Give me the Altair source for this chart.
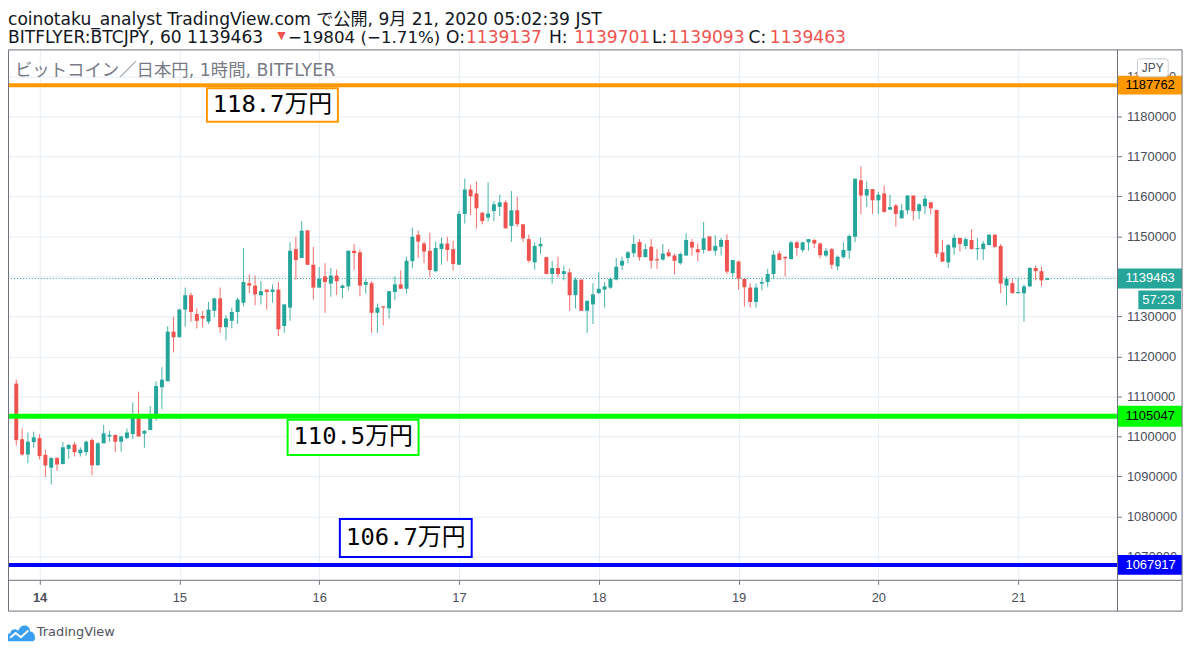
import altair as alt
import pandas as pd

# ---- hourly OHLC, BITFLYER BTC/JPY (thousand JPY), first candle 2020-09-13 20:00 ----
opens = [1113.2,1099.3,1095.5,1098.6,1099.6,1095.4,1092.2,1094.6,1093.1,1096.9,
         1098.0,1095.8,1096.1,1099.1,1092.8,1098.3,1100.0,1100.4,1098.7,1099.6,
         1100.6,1105.6,1100.7,1101.6,1105.2,1112.3,1113.8,1126.2,1124.8,1131.7,
         1135.3,1130.6,1130.1,1128.7,1131.4,1134.5,1127.3,1128.9,1131.1,1133.4,
         1138.3,1137.7,1135.3,1136.7,1136.1,1136.7,1127.6,1132.2,1146.8,1144.6,
         1151.5,1142.9,1137.2,1140.0,1138.2,1140.2,1137.1,1137.5,1146.4,1146.0,
         1137.9,1138.3,1130.9,1132.5,1132.0,1136.1,1138.0,1136.9,1143.8,1150.4,
         1148.2,1146.4,1141.3,1146.8,1148.2,1146.8,1142.9,1155.6,1161.7,1160.7,
         1155.9,1154.7,1156.3,1157.4,1158.5,1152.6,1156.5,1153.0,1149.3,1143.5,
         1147.5,1144.8,1140.6,1142.1,1140.6,1141.0,1135.3,1139.2,1131.4,1133.0,
         1135.8,1136.7,1137.2,1139.2,1142.7,1144.6,1145.8,1148.6,1144.8,1147.4,
         1144.3,1144.2,1146.0,1145.2,1143.3,1145.2,1148.6,1146.8,1146.6,1150.0,
         1146.4,1147.4,1149.1,1140.8,1143.7,1139.4,1137.2,1133.6,1138.2,1138.6,
         1140.6,1145.7,1144.9,1144.3,1148.5,1146.6,1148.5,1149.1,1148.2,1145.2,
         1146.8,1142.5,1144.8,1146.4,1149.9,1164.0,1160.2,1161.8,1159.0,1160.7,
         1156.7,1157.7,1154.5,1156.5,1160.2,1156.3,1157.5,1158.5,1156.6,1146.0,
         1143.5,1147.2,1149.6,1147.6,1149.1,1146.8,1146.8,1147.8,1150.4,1147.6,
         1137.7,1138.3,1135.8,1135.8,1137.5,1142.1,1141.3,1139.137]
highs = [1114.2,1102.0,1101.0,1101.2,1100.6,1096.7,1094.9,1094.9,1098.6,1098.1,
         1098.6,1097.3,1099.0,1099.6,1098.6,1102.9,1101.4,1100.4,1100.2,1102.0,
         1108.5,1111.2,1101.6,1107.6,1113.8,1117.3,1127.6,1129.9,1132.0,1137.2,
         1135.9,1132.0,1131.4,1133.6,1134.7,1137.2,1130.3,1132.2,1134.7,1147.1,
         1140.5,1140.2,1138.8,1136.7,1138.0,1138.6,1133.0,1148.5,1149.9,1153.8,
         1151.5,1147.4,1142.3,1143.3,1142.1,1141.7,1138.0,1146.4,1148.1,1146.8,
         1139.4,1138.8,1133.2,1132.5,1136.3,1140.0,1141.5,1144.9,1152.2,1151.5,
         1148.7,1150.9,1148.7,1149.7,1149.9,1148.9,1156.3,1164.4,1162.9,1163.7,
         1156.1,1163.5,1158.8,1160.4,1159.0,1161.3,1159.9,1153.0,1150.4,1148.5,
         1149.7,1144.9,1143.9,1144.9,1142.7,1141.9,1139.7,1139.2,1133.9,1138.3,
         1141.0,1138.6,1139.7,1144.6,1144.9,1146.4,1150.3,1149.3,1148.1,1149.3,
         1146.8,1148.1,1146.8,1145.7,1146.0,1150.7,1149.3,1148.2,1153.6,1150.0,
         1150.3,1149.6,1150.5,1144.1,1143.9,1139.4,1138.3,1138.2,1139.7,1141.9,
         1146.4,1146.4,1144.9,1148.9,1148.9,1148.7,1149.3,1149.3,1148.5,1147.1,
         1147.1,1145.2,1148.5,1150.5,1164.4,1167.5,1163.7,1161.8,1161.1,1162.7,
         1160.4,1158.1,1158.1,1160.2,1160.2,1158.2,1160.3,1158.5,1156.6,1149.1,
         1148.1,1150.5,1149.7,1149.7,1151.8,1149.6,1148.9,1150.5,1150.5,1148.1,
         1140.0,1139.4,1139.7,1138.0,1142.3,1142.7,1142.4,1139.701]
lows = [1097.7,1095.2,1093.3,1097.2,1094.3,1089.9,1088.0,1091.4,1093.1,1094.4,
        1095.0,1095.0,1095.2,1090.3,1092.8,1098.3,1098.7,1096.1,1096.2,1099.4,
        1099.4,1100.0,1097.2,1101.6,1103.9,1106.8,1113.8,1121.0,1124.8,1127.4,
        1128.7,1127.0,1127.3,1128.1,1129.8,1125.9,1124.0,1127.0,1128.1,1132.5,
        1135.8,1132.8,1133.0,1131.7,1133.4,1125.1,1125.9,1128.9,1139.2,1144.6,
        1142.9,1134.2,1137.2,1130.9,1134.9,1135.3,1134.5,1136.5,1141.6,1135.0,
        1135.7,1125.9,1125.9,1127.8,1129.5,1134.0,1136.9,1135.7,1142.1,1144.6,
        1143.3,1139.8,1141.0,1142.9,1143.8,1141.5,1142.9,1153.2,1155.3,1152.0,
        1153.0,1153.7,1153.8,1155.1,1152.0,1148.6,1152.4,1148.6,1143.4,1141.7,
        1145.6,1140.6,1138.2,1139.7,1139.0,1131.4,1132.0,1131.4,1125.9,1128.1,
        1135.7,1132.2,1136.9,1139.0,1141.6,1143.3,1144.8,1143.9,1144.8,1141.9,
        1141.9,1143.9,1145.0,1140.5,1142.9,1145.2,1145.2,1143.8,1145.7,1146.4,
        1145.2,1145.2,1140.6,1139.7,1136.7,1132.5,1132.2,1132.2,1136.5,1137.3,
        1139.4,1144.1,1140.0,1144.3,1145.2,1146.0,1146.4,1147.1,1144.5,1144.8,
        1141.9,1141.5,1144.4,1144.4,1148.5,1155.5,1157.3,1155.6,1155.5,1155.9,
        1156.5,1152.4,1154.5,1155.5,1154.0,1154.3,1155.5,1155.5,1144.8,1143.7,
        1142.1,1145.4,1146.2,1146.8,1146.8,1144.1,1144.1,1147.8,1147.1,1135.8,
        1132.8,1135.7,1135.8,1128.7,1137.3,1139.0,1137.5,1139.093]
closes = [1099.1,1095.5,1098.7,1099.8,1095.1,1092.8,1094.6,1093.0,1097.3,1097.9,
          1096.1,1096.7,1098.7,1092.8,1098.3,1100.8,1100.4,1098.7,1100.0,1101.0,
          1105.6,1100.0,1101.4,1105.6,1112.6,1114.2,1126.2,1124.8,1131.7,1135.3,
          1131.1,1128.9,1129.5,1131.7,1134.5,1127.3,1129.5,1131.1,1134.2,1138.6,
          1137.7,1135.5,1136.3,1136.1,1136.7,1126.8,1133.0,1146.4,1144.1,1151.4,
          1142.9,1137.2,1139.4,1138.6,1140.2,1138.8,1137.7,1146.4,1145.8,1137.7,
          1138.6,1130.9,1132.2,1132.2,1136.3,1138.0,1136.9,1143.9,1149.9,1148.7,
          1146.2,1141.6,1147.1,1148.2,1146.6,1143.1,1155.6,1161.7,1160.0,1157.0,
          1153.8,1155.7,1158.0,1158.5,1152.0,1156.5,1153.0,1149.5,1143.9,1147.6,
          1148.1,1140.6,1142.1,1140.6,1141.3,1135.3,1139.2,1131.4,1133.9,1135.5,
          1136.9,1137.5,1139.4,1142.4,1143.9,1146.0,1148.1,1144.8,1146.8,1143.9,
          1144.0,1145.7,1145.0,1143.9,1145.6,1149.1,1147.2,1146.0,1149.5,1146.4,
          1147.6,1149.1,1141.2,1144.1,1139.4,1137.3,1133.6,1137.2,1138.6,1140.6,
          1145.4,1144.1,1144.5,1148.5,1147.1,1148.5,1149.3,1148.2,1145.3,1146.4,
          1142.9,1144.9,1146.6,1150.1,1164.4,1160.2,1161.8,1159.0,1160.4,1156.1,
          1157.3,1155.6,1156.5,1160.2,1156.3,1158.0,1159.4,1157.0,1145.7,1143.7,
          1147.8,1149.6,1148.1,1149.3,1146.8,1147.0,1148.2,1150.4,1147.4,1138.2,
          1139.4,1135.8,1136.1,1137.5,1142.1,1141.3,1139.0,1139.463]

# horizontal levels (JPY)
level_prices = [1187762, 1105047, 1067917]
level_labels = ["118.7万円", "110.5万円", "106.7万円"]
last_price = 1139463
y_ticks = [1070000, 1080000, 1090000, 1100000, 1110000, 1120000, 1130000,
           1140000, 1150000, 1160000, 1170000, 1180000, 1190000]
day_ticks = ["2020-09-14", "2020-09-15", "2020-09-16", "2020-09-17",
             "2020-09-18", "2020-09-19", "2020-09-20", "2020-09-21"]

UP = "#26a69a"
DOWN = "#ef5350"
ORANGE = "#ff9800"
GREEN = "#00ff00"
BLUE = "#0000ff"
FRAME = "#6f727c"
GRID = "#e6edf2"
TXT = "#131722"
AXTXT = "#4a4e59"
RED_TXT = "#f05350"
HFONT = "DejaVu Sans, Noto Sans CJK JP"


def ms(s):
    return int(pd.Timestamp(s, tz="UTC").value // 10**6)


times = pd.date_range("2020-09-13 20:00", periods=len(opens), freq="h")
df = pd.DataFrame({
    "t": times.strftime("%Y-%m-%dT%H:%M:%SZ"),
    "o": [v * 1000 for v in opens],
    "h": [v * 1000 for v in highs],
    "l": [v * 1000 for v in lows],
    "c": [v * 1000 for v in closes],
})
df["bot"] = df[["o", "c"]].min(axis=1)
df["top"] = df[["o", "c"]].max(axis=1)
df["top"] = pd.concat([df["top"], df["bot"] + 250], axis=1).max(axis=1)
df["dir"] = ["up" if c >= o else "down" for o, c in zip(df["o"], df["c"])]

W, H = 1117, 534
xscale = alt.Scale(type="utc", domain=[ms("2020-09-13 19:26"), ms("2020-09-21 16:12")])
yscale = alt.Scale(domain=[1064069, 1196576], nice=False, zero=False)
cscale = alt.Scale(domain=["up", "down"], range=[UP, DOWN])

xaxis = alt.Axis(
    values=[ms(d) for d in day_ticks],
    labelExpr="utcFormat(datum.value, '%-d')",
    labelFontWeight={"condition": {"test": "utcdate(datum.value) == 14", "value": "bold"},
                     "value": "normal"},
    tickSize=4, tickColor=FRAME, labelPadding=7, domain=False,
    grid=True, gridColor=GRID, gridWidth=1,
    labelFont="Liberation Sans", labelFontSize=13, labelColor=AXTXT,
    labelFlush=False, labelOverlap=False, title=None,
)
yaxis = alt.Axis(
    orient="right", values=y_ticks, format="d",
    tickSize=4, tickColor=FRAME, labelPadding=5, domain=False,
    grid=True, gridColor=GRID, gridWidth=1,
    labelFont="Liberation Sans", labelFontSize=13, labelColor=AXTXT,
    labelFlush=False, labelOverlap=False, title=None,
)

one = alt.Data(values=[{"a": 1}])

# candles
wicks = alt.Chart(df).mark_rule(strokeWidth=1, opacity=0.85).encode(
    x=alt.X("t:T", scale=xscale, axis=xaxis),
    y=alt.Y("l:Q", scale=yscale, axis=yaxis),
    y2="h:Q",
    color=alt.Color("dir:N", scale=cscale, legend=None),
)
bodies = alt.Chart(df).mark_bar(size=4).encode(
    x=alt.X("t:T", scale=xscale, axis=xaxis),
    y=alt.Y("bot:Q", scale=yscale, axis=yaxis),
    y2="top:Q",
    color=alt.Color("dir:N", scale=cscale, legend=None),
)

last_df = pd.DataFrame({"p": [last_price]})
dotted = alt.Chart(last_df).mark_rule(color=UP, strokeDash=[1, 2], strokeWidth=1).encode(
    y=alt.Y("p:Q", scale=yscale, axis=yaxis))

lv = pd.DataFrame({"p": level_prices, "col": [ORANGE, GREEN, BLUE], "w": [4, 5, 4]})
levels = alt.Chart(lv).mark_rule().encode(
    y=alt.Y("p:Q", scale=yscale, axis=yaxis),
    color=alt.Color("col:N", scale=None),
    strokeWidth=alt.StrokeWidth("w:Q", scale=None),
)

ann = pd.DataFrame({
    "t0": ["2020-09-15T04:44:00Z", "2020-09-15T18:35:00Z", "2020-09-16T03:33:00Z"],
    "t1": ["2020-09-16T03:13:00Z", "2020-09-16T17:04:00Z", "2020-09-17T02:11:00Z"],
    "p0": [1187000, 1104200, 1079400],
    "p1": [1178600, 1095400, 1069900],
    "tm": ["2020-09-15T15:58:00Z", "2020-09-16T05:50:00Z", "2020-09-16T14:52:00Z"],
    "pm": [1182900, 1099800, 1074650],
    "label": level_labels,
    "col": [ORANGE, GREEN, BLUE],
})
ann_box = alt.Chart(ann).mark_rect(fill="white", strokeWidth=2).encode(
    x=alt.X("t0:T", scale=xscale, axis=xaxis), x2="t1:T",
    y=alt.Y("p0:Q", scale=yscale, axis=yaxis), y2="p1:Q",
    stroke=alt.Stroke("col:N", scale=None),
)
ann_txt = alt.Chart(ann).mark_text(
    font="DejaVu Sans Mono, Noto Sans CJK JP", fontSize=24, color="#000000",
    align="center", baseline="middle").encode(
    x=alt.X("tm:T", scale=xscale, axis=xaxis),
    y=alt.Y("pm:Q", scale=yscale, axis=yaxis),
    text="label:N",
)

# price tags on the right axis
tags = pd.DataFrame({
    "p": level_prices + [last_price],
    "col": [ORANGE, GREEN, BLUE, UP],
    "tcol": ["#000000", "#000000", "#ffffff", "#ffffff"],
    "txt": [str(v) for v in level_prices + [last_price]],
    "w": [19, 21, 20, 20],
})
tag_box = alt.Chart(tags).mark_rule().encode(
    x=alt.value(W), x2=alt.value(W + 65),
    y=alt.Y("p:Q", scale=yscale, axis=yaxis),
    color=alt.Color("col:N", scale=None),
    strokeWidth=alt.StrokeWidth("w:Q", scale=None),
)
tag_txt = alt.Chart(tags).mark_text(
    align="left", baseline="middle", font="Liberation Sans", fontSize=13).encode(
    x=alt.value(W + 8),
    y=alt.Y("p:Q", scale=yscale, axis=yaxis),
    color=alt.Color("tcol:N", scale=None),
    text="txt:N",
)
timer_box = alt.Chart(last_df).mark_rule(color=UP, strokeWidth=19, yOffset=21.5).encode(
    x=alt.value(W + 21), x2=alt.value(W + 64),
    y=alt.Y("p:Q", scale=yscale, axis=yaxis))
timer_txt = alt.Chart(last_df).mark_text(
    align="left", baseline="middle", font="Liberation Sans", fontSize=13,
    color="#ffffff", yOffset=21.5, text="57:23").encode(
    x=alt.value(W + 25), y=alt.Y("p:Q", scale=yscale, axis=yaxis))

jpy_box = alt.Chart(one).mark_rect(fill="white", stroke="#c8cbd3", strokeWidth=1,
                                   cornerRadius=3).encode(
    x=alt.value(W + 20), x2=alt.value(W + 51), y=alt.value(9), y2=alt.value(27))
jpy_txt = alt.Chart(one).mark_text(text="JPY", font="Liberation Sans", fontSize=12,
                                   color=AXTXT, align="center", baseline="middle").encode(
    x=alt.value(W + 35.5), y=alt.value(18))

# frame
frame = alt.Chart(one).mark_rect(fill=None, stroke=FRAME, strokeWidth=1).encode(
    x=alt.value(0.5), x2=alt.value(W + 65), y=alt.value(0), y2=alt.value(H + 31))
vsep = alt.Chart(one).mark_rule(color=FRAME, strokeWidth=1).encode(
    x=alt.value(W), y=alt.value(0), y2=alt.value(H + 31))
hsep = alt.Chart(one).mark_rule(color=FRAME, strokeWidth=1).encode(
    x=alt.value(0), x2=alt.value(W + 65), y=alt.value(H))


def txt(s, x, y, color=TXT, size=17.2, font=HFONT, align="left", baseline="middle"):
    return alt.Chart(one).mark_text(
        text=s, align=align, baseline=baseline, font=font, fontSize=size,
        color=color).encode(x=alt.value(x), y=alt.value(y))


header = [
    txt("coinotaku_analyst TradingView.com で公開, 9月 21, 2020 05:02:39 JST", 0, -25.5,
        baseline="alphabetic"),
    txt("BITFLYER:BTCJPY, 60 1139463", 0, -12),
    txt("▼", 271, -14, color=RED_TXT, size=11),
    txt("−19804 (−1.71%)", 282, -12, size=16.8),
    txt("O:", 450.5, -12, align="center"),
    txt("1139137", 461, -12, color=RED_TXT),
    txt("H:", 554, -12, align="center"),
    txt("1139701", 570, -12, color=RED_TXT),
    txt("L:", 656, -12, align="center"),
    txt("1139093", 665, -12, color=RED_TXT),
    txt("C:", 754.5, -12, align="center"),
    txt("1139463", 767, -12, color=RED_TXT),
    txt("ビットコイン／日本円, 1時間, BITFLYER", 7, 21, color="#787b86", size=17.5),
    txt("TradingView", 29, H + 52, color="#50535e", size=13),
]

cloud = alt.Chart(one).mark_point(
    shape="M-0.85,0.55 C-1.05,0.55 -1.05,0.05 -0.72,0.02 C-0.68,-0.28 -0.33,-0.33 -0.18,-0.15 "
          "C-0.02,-0.62 0.58,-0.62 0.62,-0.1 C0.98,-0.1 1.05,0.55 0.8,0.55 Z",
    filled=True, fill="#3a9ff0", stroke=None, size=900, opacity=1).encode(
    x=alt.value(13), y=alt.value(H + 53))
zig = alt.Chart(one).mark_point(
    shape="M-0.72,0.32 L-0.36,0.0 L0.0,0.28 L0.5,-0.16",
    filled=False, stroke="white", strokeWidth=2, size=900, opacity=1).encode(
    x=alt.value(13), y=alt.value(H + 53))

chart = alt.layer(
    wicks, dotted, bodies, levels, ann_box, ann_txt,
    tag_box, tag_txt, timer_box, timer_txt, jpy_box, jpy_txt,
    frame, vsep, hsep, cloud, zig, *header,
).properties(
    width=W, height=H,
    padding={"left": 0, "top": 40, "right": 75, "bottom": 73},
    autosize=alt.AutoSizeParams(type="none"),
    background="white",
).configure_view(stroke=None)

chart.save("out.html", embed_options={"renderer": "svg", "actions": False})
